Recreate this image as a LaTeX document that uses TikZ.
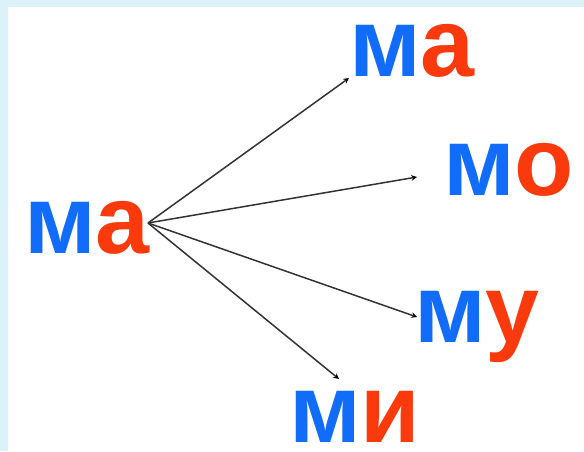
\documentclass[tikz,border=0pt]{standalone}
\usepackage{fontspec}
\setmainfont{Liberation Sans}
\usetikzlibrary{arrows}
\definecolor{bukva}{RGB}{18,108,250}
\definecolor{glasn}{RGB}{250,58,12}
\definecolor{ramka}{RGB}{218,242,248}

\begin{document}
\begin{tikzpicture}[x=1pt,y=-1pt,>=stealth,
  slog/.style={inner sep=0pt,anchor=base west,font=\fontsize{97}{100}\selectfont\bfseries}]
\fill[ramka] (0,0) rectangle (584,451);
\fill[white] (8,7) rectangle (584,451);
\useasboundingbox (0,0) rectangle (584,451);

\node[slog] (ma) at (24,253) {\textcolor{bukva}{м}\textcolor{glasn}{а}};
\node[slog] (ma2) at (349,76) {\textcolor{bukva}{м}\textcolor{glasn}{а}};
\node[slog] (mo) at (443,195) {\textcolor{bukva}{м}\textcolor{glasn}{о}};
\node[slog] (mu) at (414,342) {\textcolor{bukva}{м}\textcolor{glasn}{у}};
\node[slog] (mi) at (289,442) {\textcolor{bukva}{м}\textcolor{glasn}{и}};

\coordinate (c) at (148,223);
\coordinate (a) at (349,78);
\coordinate (o) at (417,177);
\coordinate (u) at (417,317);
\coordinate (i) at (339,379);

\path[line width=1.5pt,draw=black!80]
(c) edge[->] (a)
(c) edge[->] (o)
(c) edge[->] (u)
(c) edge[->] (i);
\end{tikzpicture}
\end{document}
